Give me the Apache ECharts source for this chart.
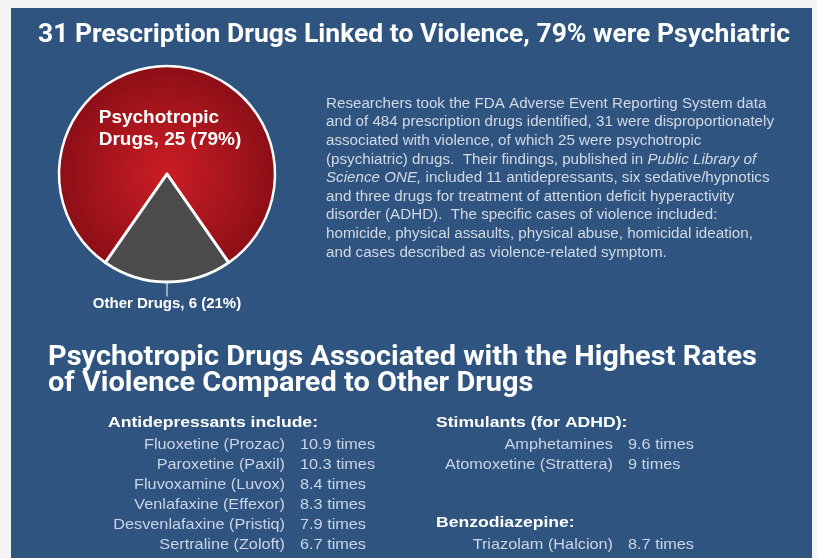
<!DOCTYPE html>
<html>
<head>
<meta charset="utf-8">
<title>31 Prescription Drugs Linked to Violence</title>
<script src="https://cdn.jsdelivr.net/npm/echarts@6.0.0/dist/echarts.min.js"></script>
<style>
  html, body { margin: 0; padding: 0; background: #f5f5f5; }
  #chart { width: 817px; height: 558px; }
</style>
</head>
<body>
<div id="chart"></div>
<script>
// pie data
const sliceNames = ['Psychotropic Drugs', 'Other Drugs']
const sliceValues = [25, 6]
const slicePercents = [79, 21]

// texts
const titleText = '31 Prescription Drugs Linked to Violence, 79% were Psychiatric'
const headlineLines = [
  'Psychotropic Drugs Associated with the Highest Rates',
  'of Violence Compared to Other Drugs',
]
const paragraphLines = [
  'Researchers took the FDA Adverse Event Reporting System data',
  'and of 484 prescription drugs identified, 31 were disproportionately',
  'associated with violence, of which 25 were psychotropic',
  '(psychiatric) drugs.  Their findings, published in {i|Public Library of}',
  '{i|Science ONE,} included 11 antidepressants, six sedative/hypnotics',
  'and three drugs for treatment of attention deficit hyperactivity',
  'disorder (ADHD).  The specific cases of violence included:',
  'homicide, physical assaults, physical abuse, homicidal ideation,',
  'and cases described as violence-related symptom.',
]

// drug lists (times more violence than other drugs)
const antidepTitle = 'Antidepressants include:'
const antidepNames = [
  'Fluoxetine (Prozac)',
  'Paroxetine (Paxil)',
  'Fluvoxamine (Luvox)',
  'Venlafaxine (Effexor)',
  'Desvenlafaxine (Pristiq)',
  'Sertraline (Zoloft)',
]
const antidepTimes = [10.9, 10.3, 8.4, 8.3, 7.9, 6.7]

const stimTitle = 'Stimulants (for ADHD):'
const stimNames = ['Amphetamines', 'Atomoxetine (Strattera)']
const stimTimes = [9.6, 9]

const benzoTitle = 'Benzodiazepine:'
const benzoNames = ['Triazolam (Halcion)']
const benzoTimes = [8.7]

// text measuring, used to squeeze fonts to the picture's widths
const measureCtx = document.createElement('canvas').getContext('2d')
const textWidth = (str, font) => {
  measureCtx.font = font
  return measureCtx.measureText(str).width
}

const titleFont = 'bold 25px Roboto'
const headFont = 'bold 27px Roboto'
const paraFont = '14px "Liberation Sans"'
const paraItalic = 'italic 14px "Liberation Sans"'
const rowFont = '15px "Liberation Sans"'
const groupFont = 'bold 15.5px "Liberation Sans"'

const titleScale = 752 / textWidth(titleText, titleFont)
const headScale = 709 / textWidth(headlineLines[0], headFont)
const paraScale = 448 / textWidth(paragraphLines[1], paraFont)
const rowScale = 141 / textWidth(antidepNames[0], rowFont)
const groupScale = 210 / textWidth(antidepTitle, groupFont)

const rowColor = '#cad4e4'

const textEl = (text, x, y, align, font, scale, fill) => ({
  type: 'text',
  x: x,
  y: y,
  scaleX: scale,
  style: {
    text: text,
    font: font,
    fill: fill,
    align: align,
    textAlign: align,
    verticalAlign: 'middle',
    textVerticalAlign: 'middle',
  },
})

const listRows = (names, times, xName, xVal, y0) =>
  names.flatMap((n, i) => [
    textEl(n, xName, y0 + i * 20, 'right', rowFont, rowScale, rowColor),
    textEl(times[i] + ' times', xVal, y0 + i * 20, 'left', rowFont, rowScale, rowColor),
  ])

const total = sliceValues.reduce((a, b) => a + b, 0)
// put the small slice centred at the bottom
const startAngle = -90 + (360 * (sliceValues[0] + sliceValues[1] / 2)) / total

const redGradient = {
  type: 'radial',
  x: 0.5,
  y: 0.55,
  r: 0.55,
  colorStops: [
    { offset: 0, color: '#cc1d26' },
    { offset: 1, color: '#8c0f16' },
  ],
}

const nameWords = sliceNames[0].split(' ')
const redLabel =
  '{a|' + nameWords[0] + '}\n{a|' + nameWords.slice(1).join(' ') + ', ' +
  sliceValues[0] + ' (' + slicePercents[0] + '%)}'
const grayLabel =
  sliceNames[1] + ', ' + sliceValues[1] + ' (' + slicePercents[1] + '%)'

const chart = echarts.init(document.getElementById('chart'))

const option = {
  backgroundColor: '#f5f5f5',
  animation: false,
  graphic: {
    elements: [
      {
        type: 'rect',
        z: -10,
        shape: { x: 11, y: 8, width: 801, height: 560 },
        style: { fill: '#2f547f' },
      },
      textEl(titleText, 414, 36, 'center', titleFont, titleScale, '#ffffff'),
      textEl(headlineLines[0], 48, 358, 'left', headFont, headScale, '#ffffff'),
      textEl(headlineLines[1], 48, 384, 'left', headFont, headScale, '#ffffff'),
      {
        type: 'text',
        x: 326,
        y: 94.7,
        scaleX: paraScale,
        style: {
          text: paragraphLines.join('\n'),
          font: paraFont,
          fill: '#d2d9e5',
          lineHeight: 18.6,
          align: 'left',
          textAlign: 'left',
          verticalAlign: 'top',
          textVerticalAlign: 'top',
          rich: {
            i: { font: paraItalic, fill: '#d2d9e5', lineHeight: 18.6 },
          },
        },
      },
      textEl(antidepTitle, 108, 423, 'left', groupFont, groupScale, '#ffffff'),
      ...listRows(antidepNames, antidepTimes, 285, 300, 445),
      textEl(stimTitle, 436, 423, 'left', groupFont, groupScale, '#ffffff'),
      ...listRows(stimNames, stimTimes, 613, 628, 445),
      textEl(benzoTitle, 436, 523, 'left', groupFont, groupScale, '#ffffff'),
      ...listRows(benzoNames, benzoTimes, 613, 628, 545),
    ],
  },
  series: [
    {
      type: 'pie',
      center: [167, 174],
      radius: 108,
      startAngle: startAngle,
      clockwise: true,
      silent: true,
      avoidLabelOverlap: false,
      itemStyle: { borderColor: '#ffffff', borderWidth: 2.5 },
      data: [
        {
          name: sliceNames[0],
          value: sliceValues[0],
          itemStyle: { color: redGradient },
          label: {
            show: true,
            position: 'inside',
            formatter: redLabel,
            offset: [3, 12],
            rich: {
              a: {
                align: 'left',
                color: '#ffffff',
                fontFamily: 'Liberation Sans',
                fontWeight: 'bold',
                fontSize: 19,
                lineHeight: 22,
              },
            },
          },
          labelLine: { show: false },
        },
        {
          name: sliceNames[1],
          value: sliceValues[1],
          itemStyle: { color: '#4b4b4b', borderWidth: 3 },
          label: {
            show: true,
            position: 'outside',
            formatter: grayLabel,
            color: '#ffffff',
            fontFamily: 'Liberation Sans',
            fontWeight: 'bold',
            fontSize: 15,
          },
          labelLine: {
            show: true,
            length: 10,
            length2: 0,
            lineStyle: { color: '#ffffff', width: 1 },
          },
        },
      ],
      labelLayout: function (p) {
        if (p.dataIndex === 1) {
          return {
            x: p.rect.x + p.rect.width / 2,
            y: p.labelRect.y + p.labelRect.height / 2 + 12,
            align: 'center',
            verticalAlign: 'middle',
          }
        }
      },
    },
  ],
}

chart.setOption(option)
</script>
</body>
</html>
